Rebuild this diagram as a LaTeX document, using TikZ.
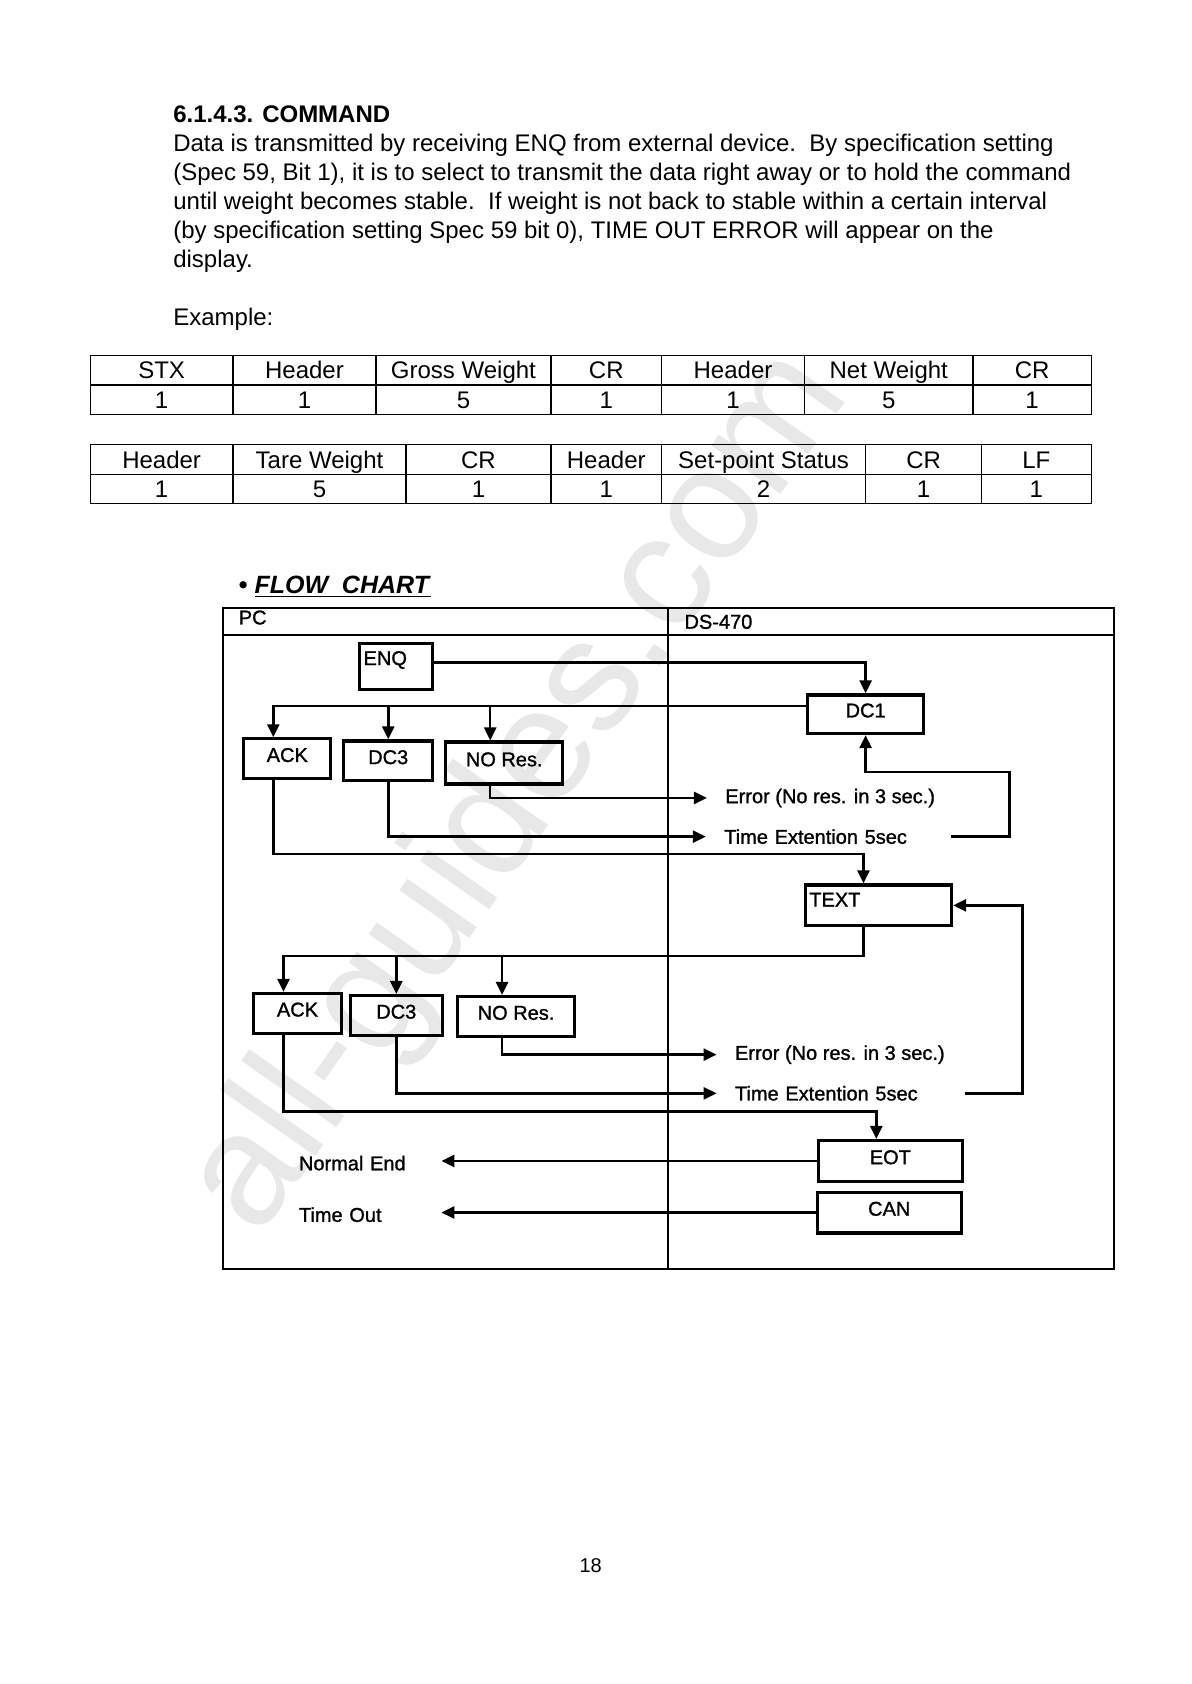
\documentclass[tikz,border=0pt]{standalone}
\usepackage{fontspec}
\setmainfont{Liberation Sans}
\newfontfamily\chartfont[FakeBold=1.2]{Liberation Sans}
\usetikzlibrary{arrows.meta, calc, positioning}
\tikzset{
    fbox/.style={rectangle, draw, line width=1.6pt, inner sep=0pt, text height=7.2pt, text depth=4pt, font=\chartfont\fontsize{10}{12}\selectfont},
    cell/.style={rectangle, draw, line width=0.6pt, inner sep=0pt, minimum height=14.77pt, text height=10.7pt, text depth=2pt, font=\fontsize{12}{14}\selectfont},
    arrow/.style={line width=1.25pt,->}
}
\begin{document}
\begin{tikzpicture}[x=0.537pt, y=-0.537pt, >={Triangle[length=6.5pt,width=6pt]},
    txt/.style={inner sep=0pt, anchor=west, font=\fontsize{12}{14}\selectfont},
    lbl/.style={inner sep=0pt, anchor=west, align=left, font=\chartfont\fontsize{10}{12}\selectfont},
    lblin/.style={anchor=north west, inner xsep=2.5pt, inner ysep=4.5pt, font=\chartfont\fontsize{10}{12}\selectfont}]

    \path [use as bounding box, fill=white] (0,0) rectangle (1109,1568);

    % Watermark
    \node (wm) [rotate=55, text=black!9, font=\fontsize{80}{80}\selectfont] at (485,738) {all-guides.com};

    % Heading and text
    \node (head) [txt, font=\bfseries\fontsize{12}{14}\selectfont] at (161,106) {6.1.4.3. COMMAND};
    \node (p1) [txt] at (161,135) {Data is transmitted by receiving ENQ from external device.\ \ By specification setting};
    \node (p2) [txt] at (161,162) {(Spec 59, Bit 1), it is to select to transmit the data right away or to hold the command};
    \node (p3) [txt] at (161,189) {until weight becomes stable.\ \ If weight is not back to stable within a certain interval};
    \node (p4) [txt] at (161,216) {(by specification setting Spec 59 bit 0), TIME OUT ERROR will appear on the};
    \node (p5) [txt] at (161,243) {display.};
    \node (ex) [txt] at (161,297) {Example:};

    % Table 1
    \node (a1) [cell, minimum width=71.42pt] at (150.5,344.75) {STX};
    \node (a2) [cell, minimum width=71.42pt] at (283.5,344.75) {Header};
    \node (a3) [cell, minimum width=87.53pt] at (431.5,344.75) {Gross Weight};
    \node (a4) [cell, minimum width=55.31pt] at (564.5,344.75) {CR};
    \node (a5) [cell, minimum width=71.42pt] at (682.5,344.75) {Header};
    \node (a6) [cell, minimum width=84.31pt] at (827.5,344.75) {Net Weight};
    \node (a7) [cell, minimum width=59.07pt] at (961,344.75) {CR};
    \node (b1) [cell, minimum width=71.42pt] at (150.5,372.25) {1};
    \node (b2) [cell, minimum width=71.42pt] at (283.5,372.25) {1};
    \node (b3) [cell, minimum width=87.53pt] at (431.5,372.25) {5};
    \node (b4) [cell, minimum width=55.31pt] at (564.5,372.25) {1};
    \node (b5) [cell, minimum width=71.42pt] at (682.5,372.25) {1};
    \node (b6) [cell, minimum width=84.31pt] at (827.5,372.25) {5};
    \node (b7) [cell, minimum width=59.07pt] at (961,372.25) {1};

    % Table 2
    \node (c1) [cell, minimum width=71.42pt] at (150.5,427.75) {Header};
    \node (c2) [cell, minimum width=86.46pt] at (297.5,427.75) {Tare Weight};
    \node (c3) [cell, minimum width=72.50pt] at (445.5,427.75) {CR};
    \node (c4) [cell, minimum width=55.31pt] at (564.5,427.75) {Header};
    \node (c5) [cell, minimum width=102.03pt] at (711,427.75) {Set-point Status};
    \node (c6) [cell, minimum width=58.0pt] at (860,427.75) {CR};
    \node (c7) [cell, minimum width=54.77pt] at (965,427.75) {LF};
    \node (d1) [cell, minimum width=71.42pt] at (150.5,455.25) {1};
    \node (d2) [cell, minimum width=86.46pt] at (297.5,455.25) {5};
    \node (d3) [cell, minimum width=72.50pt] at (445.5,455.25) {1};
    \node (d4) [cell, minimum width=55.31pt] at (564.5,455.25) {1};
    \node (d5) [cell, minimum width=102.03pt] at (711,455.25) {2};
    \node (d6) [cell, minimum width=58.0pt] at (860,455.25) {1};
    \node (d7) [cell, minimum width=54.77pt] at (965,455.25) {1};

    % Flow chart frame
    \node (title) [txt, font=\bfseries\fontsize{12.5}{14}\selectfont] at (222,546) {\textbullet\ \underline{\textit{FLOW\ \ CHART}}};
    \draw [line width=1pt] (208,566) rectangle (1037,1182);
    \draw [line width=1pt] (208,591) -- (1037,591);
    \draw [line width=1pt] (622,566) -- (622,1182);
    \node (pc) [lbl] at (222,575) {PC};
    \node (ds) [lbl] at (637,579) {DS-470};

    % Boxes
    \node (enq) [fbox, minimum width=36.5pt, minimum height=23.1pt, label={[lblin]north west:ENQ}] at (369,620.5) {};
    \node (dc1) [fbox, minimum width=58pt, minimum height=19.3pt] at (806,665) {DC1};
    \node (ack1) [fbox, minimum width=43.5pt, minimum height=19.9pt] at (267.5,706.5) {ACK};
    \node (dc3a) [fbox, minimum width=44.6pt, minimum height=19.9pt] at (361.5,708.5) {DC3};
    \node (nora) [fbox, minimum width=58.5pt, minimum height=21pt] at (469.5,710.5) {NO Res.};
    \node (txtbox) [fbox, minimum width=73pt, minimum height=20.4pt, label={[lblin]north west:TEXT}] at (818,843) {};
    \node (ack2) [fbox, minimum width=44pt, minimum height=19.9pt] at (277,943.5) {ACK};
    \node (dc3b) [fbox, minimum width=46.2pt, minimum height=19.9pt] at (369,945.5) {DC3};
    \node (norb) [fbox, minimum width=58.5pt, minimum height=20pt] at (480.5,946.5) {NO Res.};
    \node (eot) [fbox, minimum width=72pt, minimum height=20.4pt] at (829,1081) {EOT};
    \node (can) [fbox, minimum width=72pt, minimum height=20.4pt] at (828,1129) {CAN};

    % Labels
    \node (err1) [lbl] at (675,743) {Error (No res. in 3 sec.)};
    \node (tim1) [lbl, text width=113pt] at (674,779) {Time Extention 5sec};
    \node (err2) [lbl] at (684,982) {Error (No res. in 3 sec.)};
    \node (tim2) [lbl, text width=115pt] at (684,1018) {Time Extention 5sec};
    \node (nend) [lbl, text width=71pt] at (278,1083) {Normal End};
    \node (tout) [lbl, text width=71pt] at (278,1131) {Time Out};

    % Bus lines
    \coordinate (bus1) at ([yshift=4pt]dc1.west);
    \coordinate (bus3) at (600,795);
    \coordinate (bus4) at (600,890);
    \coordinate (bus5) at (600,1035);
    \coordinate (rt1) at (940,719);
    \coordinate (rt2) at (952,843);

    % Arrows
    \draw [arrow] ([yshift=2pt]enq.east) -| (dc1.north);
    \draw [arrow] (bus1) -| ([xshift=-7pt]ack1.north);
    \draw [arrow] (dc3a.north |- bus1) -- (dc3a.north);
    \draw [arrow] ([xshift=-7pt]nora.north |- bus1) -- ([xshift=-7pt]nora.north);

    \draw [arrow] ([xshift=-7pt]nora.south) |- ([xshift=-9pt]err1.west);
    \draw [arrow] (dc3a.south) |- ([xshift=-9pt]tim1.west);
    \draw [arrow] (tim1.east) -| (rt1) -| (dc1.south);
    \draw [arrow] ([xshift=-7pt]ack1.south) |- (bus3) -| ([xshift=-7.5pt]txtbox.north);

    \draw [arrow] ([xshift=-7.5pt]txtbox.south) |- (bus4) -| ([xshift=-7pt]ack2.north);
    \draw [arrow] (dc3b.north |- bus4) -- (dc3b.north);
    \draw [arrow] ([xshift=-7pt]norb.north |- bus4) -- ([xshift=-7pt]norb.north);

    \draw [arrow] ([xshift=-7pt]norb.south) |- ([xshift=-9pt]err2.west);
    \draw [arrow] (dc3b.south) |- ([xshift=-9pt]tim2.west);
    \draw [arrow] (tim2.east) -| (rt2) -- (txtbox.east);
    \draw [arrow] ([xshift=-7pt]ack2.south) |- (bus5) -| ([xshift=-7pt]eot.north);

    \draw [arrow] (eot.west) -- (eot.west -| nend.east);
    \draw [arrow] (can.west) -- (can.west -| tout.east);

    % Page number
    \node (page) [inner sep=0pt, font=\fontsize{10}{12}\selectfont] at (550,1458) {18};
\end{tikzpicture}
\end{document}
